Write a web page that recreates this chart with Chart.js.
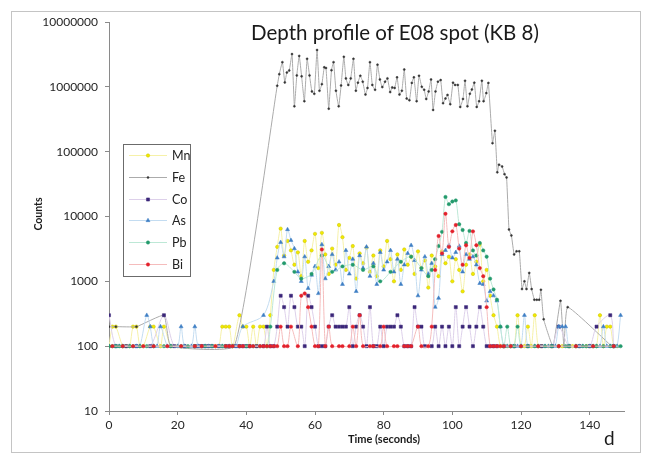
<!DOCTYPE html>
<html>
<head>
<meta charset="utf-8">
<title>Depth profile of E08 spot (KB 8)</title>
<script src="https://cdn.jsdelivr.net/npm/chart.js@4.4.1/dist/chart.umd.min.js"></script>
<style>
  body { margin: 0; background: #fff; }
  #wrap { position: relative; width: 649px; height: 461px; overflow: hidden; }
  #frame { position: absolute; left: 11px; top: 11px; width: 628px; height: 440px; border: 1px solid #c4c4c4; }
  #chart { position: absolute; left: 0; top: 0; }
  .txt { position: absolute; font-family: Lato, "Liberation Sans", sans-serif; color: #1a1a1a; white-space: nowrap; }
  #title { left: 235px; top: 20px; width: 320px; text-align: center; font-size: 20.5px; }
  #ytitle { left: 18px; top: 208px; width: 40px; text-align: center; font-size: 10.5px; font-weight: bold; transform: rotate(-90deg); }
  #xtitle { left: 334px; top: 432px; width: 100px; text-align: center; font-size: 11px; font-weight: bold; }
  #panel { left: 604px; top: 426px; font-size: 19px; }
</style>
</head>
<body>
<div id="wrap">
  <div id="frame"></div>
  <canvas id="chart" width="649" height="461"></canvas>
  <div class="txt" id="title">Depth profile of E08 spot (KB 8)</div>
  <div class="txt" id="ytitle">Counts</div>
  <div class="txt" id="xtitle">Time (seconds)</div>
  <div class="txt" id="panel">d</div>
</div>
<script>
// time grid (s) shared by the low-count elements
const seconds = [
  0, 1, 2, 3, 4, 5, 6, 7, 8, 9, 10, 11, 12, 13, 14, 15, 16, 17, 18, 19,
  20, 21, 22, 23, 24, 25, 26, 27, 28, 29, 30, 31, 32, 33, 34, 35, 36, 37, 38, 39,
  40, 41, 42, 43, 44, 45, 46, 47, 48, 49, 50, 51, 52, 53, 54, 55, 56, 57, 58, 59,
  60, 61, 62, 63, 64, 65, 66, 67, 68, 69, 70, 71, 72, 73, 74, 75, 76, 77, 78, 79,
  80, 81, 82, 83, 84, 85, 86, 87, 88, 89, 90, 91, 92, 93, 94, 95, 96, 97, 98, 99,
  100, 101, 102, 103, 104, 105, 106, 107, 108, 109, 110, 111, 112, 113, 114, 115, 116, 117, 118, 119,
  120, 121, 122, 123, 124, 125, 126, 127, 128, 129, 130, 131, 132, 133, 134, 135, 136, 137, 138, 139,
  140, 141, 142, 143, 144, 145, 146, 147, 148, 149
];

const mnCounts = [
  100, 200, 200, null, 100, 100, 100, 200, 200, 100,
  100, null, 200, 200, null, 100, 200, null, 100, null,
  100, null, 100, null, null, 100, null, 100, null, 100,
  null, 100, 100, 200, 200, 200, 100, null, 300, 200,
  200, 100, 200, 100, 200, 200, 100, 300,
  1500, 3400, 6500, 2500, 4200, 3000, 1800, 2800, 1200, 4200,
  2000, 3000, 5400, 1600, 5600, 2600, 1300, 3200, 1800, 7400,
  4800, 1500, 2300, 3500, 1100, 2700, 1900, 3300, 1400, 2500,
  1200, 3000, 1700, 4200, 2200, 1000, 2600, 1500, 3100, 1800,
  2400, 1300, 2900, 1600, 2100, 800, 2500, 1700, 1200, 2900,
  1900, 2400, 1000, 2200, 1500, 700, 1800, 2600, 1300, 2000,
  3700, 1000, 1500, 600, 300,
  200, 100, 100, 100, 100, 100, 300,
  100, 100, 200, 100, 300, 100, 100, null, 100, 100,
  null, 100, 100, null, 100, 100, 100, 100, null, 100,
  100, 100, 100, 300, 100, 200, 200, 100, 100, null
];

const coCounts = [
  300, null, 100, null, null, 100, null, null, 100, null,
  null, null, 100, null, null, null, 300, null, null, 100,
  null, null, 100, null, null, 100, 100, 100, 100, 100,
  100, null, 100, null, 100, 100, null, 100, 100, 100,
  100, 100, null, 100, null, 100, 200, 100,
  100, 200, 600, 400, 200, 600, 400, 200, 200, 100,
  600, 400, 200, 100, 100, 100, 200, 300, 200, 200,
  200, 200, 400, 100, 200, 300, 200, 100, 400, 100,
  100, 200, 100, 200, 200, 200, 300, 200, 100, 100,
  100, 400, 200, 200, 100, null, 100, 200, 100, 200,
  100, 200, 100, 400, 100, 200, 400, 200, 100, 200,
  400, 200, 100, 100, 100,
  100, null, 100, null, null, 100, null,
  null, null, 100, null, null, null, 100, null, null, 100,
  null, 200, null, null, 100, null, null, 100, null, null,
  100, null, 200, null, null, null, 300, 100, null, null
];

const asCounts = [
  100, null, 100, 100, 100, null, 100, null, 100, 100,
  null, 300, 200, 100, 100, 200, null, 100, 100, null,
  100, 200, 100, null, 100, 200, 100, null, 100, 100,
  100, null, 100, 100, null, 100, 100, 100, null, 200,
  null, null, null, null, null, 300, null, null,
  1000, 2300, 4000, 2400, 6300, 4300, 3200, 1400, 1000, 2400,
  780, 1250, 1700, 650, 3700, 1100, 1700, 2600, 1500, 2000,
  900, 3000, 1300, 2200, 700, 2500, 1600, 3400, 1200, 1900,
  900, 2800, 1500, 2000, 3000, 1400, 2200, 900, 1800, 2700,
  3600, 2100, 600, 1500, 2400, 1300, 1900, 400, 550, 2600,
  3000, 3600, 2300, 2800, 3500, 1400, 2600, 2200, 2400, 1800,
  930, 900, 500, 700, 600,
  500, 200, 100, 100, null, 100, 100,
  100, 300, 100, null, 100, 100, null, 100, 100, 100,
  100, 200, 200, 200, 100, null, 100, 100, 100, null,
  100, 100, 100, 100, 200, 100, 100, 100, 100, 300
];

const pbCounts = [
  100, 100, 100, 100, 100, null, 100, 100, null, 100,
  null, 100, null, 100, null, null, 100, null, 100, null,
  null, 100, null, 100, null, 100, null, null, 100, null,
  100, null, null, 100, 100, null, 100, null, 100, null,
  100, null, 100, null, 100, null, 100, 200,
  null, 1500, null, 1900, null, null, 1400, null, 1100, null,
  null, 1300, null, null, 2500, null, null, 1400, null, null,
  1700, null, null, 1800, null, null, 1500, null, null, 1700,
  null, 1000, null, null, 1400, null, null, 2000, null, null,
  2400, null, null, 1600, null, 1200, 1500, 2200, 3500, 5800,
  20000, 15500, 17000, 17700, 7600, 6200, 3900, 6000, 3000, 2500,
  3900, 3000, 2400, 1100, 750,
  520, 200, 100, 200, 100, 100, 200,
  100, null, 100, null, 100, 100, null, 100, null, 100,
  null, 100, null, 100, 100, null, 100, null, 100, 100,
  null, 100, 100, null, 100, null, 100, 100, null, 100
];

const biCounts = [
  null, 100, null, null, 100, null, null, 100, null, null,
  100, null, null, 100, null, null, null, 100, null, null,
  null, 100, null, null, null, 100, null, 100, null, null,
  null, 100, null, null, 100, 100, 100, null, 100, 100,
  null, 100, 100, null, 100, 100, 100, 100,
  100, 100, 200, 100, 100, 200, null, 100, 600, 650,
  400, 200, 100, 100, 3100, 100, 200, 100, null, 100,
  100, null, 100, 200, 100, 300, 100, null, 100, 100,
  null, 100, 200, 100, null, 100, 100, null, 100, 100,
  100, null, 200, 100, null, 100, 200, 1500, 5000, 2700,
  11000, 3400, 5900, 7400, 3200, 1800, 3600, 2300, 5900, 3600,
  1600, 1200, 400, 100, 100,
  100, 100, 100, null, 100, null, null,
  100, null, null, null, null, 100, null, null, null, null,
  null, 100, null, null, null, null, 100, null, null, null,
  null, 100, null, null, null, null, null, 100, null, null
];

// Fe is sampled more finely, so it keeps its own time list
const feTime = [
  0, 2, 8, 16, 18, 36.5,
  49.0, 49.6, 50.5, 51.2, 51.8, 52.5, 53.3, 54.0, 54.7, 55.4,
  56.1, 56.9, 57.7, 58.4, 59.1, 59.8, 60.6, 61.3, 62.0, 62.7,
  63.2, 64.0, 64.8, 65.4, 66.1, 66.9, 67.6, 68.4, 69.0, 69.7,
  70.4, 71.2, 71.9, 72.5, 73.2, 73.9, 74.7, 75.3, 76.0, 76.7,
  77.5, 78.2, 78.9, 79.6, 80.4, 81.1, 81.9, 82.5, 83.2, 83.9,
  84.6, 85.3, 86.0, 86.7, 87.5, 88.2, 88.8, 89.6, 90.3,
  91.1, 91.8, 92.4, 93.1, 93.8, 94.4, 95.1, 95.8, 96.6, 97.3,
  98.0, 98.6, 99.4, 100.2, 100.8, 101.6, 102.3, 103.1, 103.7, 104.4,
  105.1, 105.7, 106.4, 107.1, 107.8, 108.6, 109.1, 109.9, 110.5,
  111.7, 112.4, 113.1, 113.6, 114.5, 115.2, 115.8, 116.5, 117.2, 118.0,
  118.7, 119.5, 120.3, 121.0, 121.6, 122.4, 123.1, 123.9, 124.6, 125.3,
  125.8, 126.6, 129.3, 131.5, 132.5, 133.6, 146.4
];
const feCounts = [
  200, 200, 200, 300, 100, 100,
  1040000, 1570000, 2400000, 1170000, 1660000, 1790000, 3200000, 500000, 1500000, 3000000,
  1450000, 600000, 2700000, 1500000, 850000, 780000, 3700000, 870000, 1100000, 2000000,
  1950000, 460000, 1800000, 2400000, 870000, 500000, 1050000, 2900000, 1350000, 1070000,
  1350000, 2700000, 870000, 1160000, 1480000, 1200000, 760000, 960000, 2400000, 1070000,
  900000, 2200000, 1300000, 990000, 1200000, 1350000, 830000, 980000, 960000, 1400000,
  760000, 870000, 1850000, 660000, 620000, 1150000, 1400000, 600000, 1480000,
  1000000, 900000, 650000, 850000, 1300000, 440000, 850000, 1200000, 1270000, 560000,
  660000, 750000, 540000, 1160000, 1070000, 1070000, 490000, 650000, 1240000, 500000,
  780000, 910000, 1160000, 490000, 600000, 1240000, 600000, 800000, 1150000,
  135000, 210000, 48000, 63000, 59000, 45000, 40000, 6300, 5100, 2600,
  2900, 2900, 760, 1000, 760, 1350, 760, 520, 520, 520,
  740, 260, 100, 500, 100, 400, 100
];

const timeTicks = [0, 20, 40, 60, 80, 100, 120, 140];
const countTicks = [10, 100, 1000, 10000, 100000, 1000000, 10000000];

const series = [
  { label: "Mn", time: seconds, counts: mnCounts, line: "#f6f1a8", fill: "#f2ea00", edge: "#c9c000", style: "circle", r: 1.7, tension: 0.3 },
  { label: "Fe", time: feTime, counts: feCounts, line: "#ababab", fill: "#333333", edge: "#333333", style: "circle", r: 1.0, tension: 0.12 },
  { label: "Co", time: seconds, counts: coCounts, line: "#ddd0ea", fill: "#3b2679", edge: "#3b2679", style: "rect", r: 2.2, tension: 0.3 },
  { label: "As", time: seconds, counts: asCounts, line: "#c3dcf1", fill: "#3f7fc4", edge: "#3f7fc4", style: "triangle", r: 2.3, tension: 0.3 },
  { label: "Pb", time: seconds, counts: pbCounts, line: "#bde8d6", fill: "#239a6c", edge: "#239a6c", style: "circle", r: 1.7, tension: 0.3 },
  { label: "Bi", time: seconds, counts: biCounts, line: "#f5bcbc", fill: "#e3202b", edge: "#e3202b", style: "circle", r: 1.7, tension: 0.3 }
];

const datasets = series.map((s, i) => ({
  label: s.label,
  data: s.time.map((t, j) => ({ x: t, y: s.counts[j] })),
  borderColor: s.line,
  borderWidth: 1,
  tension: s.tension,
  spanGaps: true,
  pointStyle: s.style,
  pointRadius: s.r,
  pointBackgroundColor: s.fill,
  pointBorderColor: s.edge,
  pointBorderWidth: 0.5,
  order: series.length - i
}));

function drawMarker(ctx, style, r, x, y) {
  ctx.beginPath();
  if (style === "rect") {
    const h = r * Math.SQRT1_2;
    ctx.rect(x - h, y - h, 2 * h, 2 * h);
  } else if (style === "triangle") {
    ctx.moveTo(x, y - r);
    ctx.lineTo(x + r * 0.87, y + r * 0.5);
    ctx.lineTo(x - r * 0.87, y + r * 0.5);
    ctx.closePath();
  } else {
    ctx.arc(x, y, r, 0, Math.PI * 2);
  }
  ctx.fill();
  ctx.stroke();
}

// boxed legend sitting inside the plot, like the spreadsheet one
const boxLegend = {
  id: "boxLegend",
  afterDatasetsDraw(chart) {
    const { ctx, chartArea } = chart;
    const x0 = chartArea.left + 14, y0 = chartArea.top + 122;
    const w = 67, h = 132;
    ctx.save();
    ctx.fillStyle = "#fff";
    ctx.fillRect(x0, y0, w, h);
    ctx.strokeStyle = "#6b6b6b";
    ctx.lineWidth = 1;
    ctx.strokeRect(x0 + 0.5, y0 + 0.5, w, h);
    ctx.font = "12.5px Lato, 'Liberation Sans', sans-serif";
    ctx.textBaseline = "middle";
    series.forEach((s, i) => {
      const y = Math.round(y0 + 11 + i * 21.8) + 0.5;
      ctx.strokeStyle = s.line;
      ctx.beginPath();
      ctx.moveTo(x0 + 6, y);
      ctx.lineTo(x0 + 44, y);
      ctx.stroke();
      ctx.fillStyle = s.fill;
      ctx.strokeStyle = s.edge;
      ctx.lineWidth = 0.5;
      drawMarker(ctx, s.style, s.r, x0 + 25, y);
      ctx.lineWidth = 1;
      ctx.fillStyle = "#222";
      ctx.fillText(s.label, x0 + 49, y);
    });
    ctx.restore();
  }
};

const axisColor = "#8a8a8a";
const tickFont = { family: "Lato, 'Liberation Sans', sans-serif", size: 12 };

new Chart(document.getElementById("chart"), {
  type: "line",
  data: { datasets },
  options: {
    responsive: false,
    animation: false,
    devicePixelRatio: 1,
    layout: { padding: { left: 0, right: 25, top: 22, bottom: 0 } },
    plugins: {
      legend: { display: false },
      title: { display: false },
      tooltip: { enabled: false }
    },
    scales: {
      x: {
        type: "linear",
        min: 0,
        max: 150,
        afterBuildTicks: (scale) => { scale.ticks = timeTicks.map(v => ({ value: v })); },
        afterFit: (scale) => { scale.height = 50; },
        border: { color: axisColor, width: 1 },
        grid: { drawOnChartArea: false, tickLength: 4, color: axisColor },
        ticks: { font: tickFont, color: "#262626", padding: 3, maxRotation: 0 }
      },
      y: {
        type: "logarithmic",
        min: 10,
        max: 10000000,
        afterBuildTicks: (scale) => { scale.ticks = countTicks.map(v => ({ value: v })); },
        afterFit: (scale) => { scale.width = 109; },
        border: { color: axisColor, width: 1 },
        grid: { drawOnChartArea: false, tickLength: 4, color: axisColor },
        ticks: {
          font: tickFont,
          color: "#262626",
          padding: 7,
          callback: (v) => String(Math.round(v))
        }
      }
    }
  },
  plugins: [boxLegend]
});
</script>
</body>
</html>
